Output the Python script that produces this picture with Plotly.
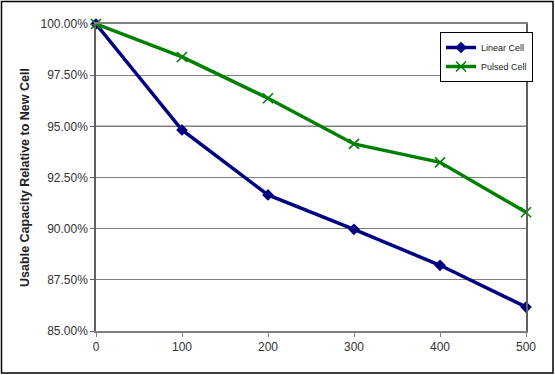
import plotly.graph_objects as go

cycles = [0, 100, 200, 300, 400, 500]
linear_cell = [100.00, 94.82, 91.65, 89.97, 88.21, 86.17]
pulsed_cell = [100.00, 98.39, 96.37, 94.14, 93.24, 90.80]
y_ticks = [85.0, 87.5, 90.0, 92.5, 95.0, 97.5, 100.0]
y_tick_labels = [f"{v:.2f}%" for v in y_ticks]
x_tick_labels = [str(c) for c in cycles]
series_names = ["Linear Cell", "Pulsed Cell"]

W, H = 555, 375
ML, MR, MT, MB = 96, 29, 24, 44
pw, ph = W - ML - MR, H - MT - MB

fig = go.Figure()
fig.add_trace(go.Scatter(
    x=cycles, y=linear_cell, name=series_names[0], mode="lines+markers",
    line=dict(color="#000080", width=3.5),
    marker=dict(symbol="diamond", size=9, color="#000080"),
    cliponaxis=False,
))
fig.add_trace(go.Scatter(
    x=cycles, y=pulsed_cell, name=series_names[1], mode="lines+markers",
    line=dict(color="#008000", width=3.5),
    marker=dict(symbol="x-thin", size=10, color="#008000",
                line=dict(color="#008000", width=1.6)),
    cliponaxis=False,
))

# darker reference gridline at 95%
fig.add_hline(y=y_ticks[4], line=dict(color="#000000", width=1.2), layer="below")

# outer black frame of the chart
fig.add_shape(type="rect", xref="paper", yref="paper",
              x0=(1.5 - ML) / pw, x1=(W - 2 - ML) / pw,
              y0=-(MB - 2) / ph, y1=(H - MB - 1.5) / ph,
              line=dict(color="#000000", width=1.5))

fig.update_layout(
    width=W, height=H,
    margin=dict(l=ML, r=MR, t=MT, b=MB),
    paper_bgcolor="white", plot_bgcolor="white",
    font=dict(family="Liberation Sans, Arial, sans-serif", size=12, color="#333333"),
    showlegend=True,
    legend=dict(x=(440 - ML) / pw, y=(H - MB - 32) / ph, xanchor="left", yanchor="top",
                bgcolor="white", bordercolor="#000000", borderwidth=1,
                font=dict(size=9, color="#222222"),
                itemwidth=30, tracegroupgap=0),
    xaxis=dict(range=[0, 500], tickvals=cycles, ticktext=x_tick_labels, showgrid=False,
               showline=True, linecolor="#808080", linewidth=1.5, mirror=True,
               ticks="outside", ticklen=4, tickcolor="#808080",
               tickfont=dict(size=12, color="#333333"), zeroline=False),
    yaxis=dict(range=[85, 100], tickvals=y_ticks, ticktext=y_tick_labels,
               showgrid=True, gridcolor="#808080", gridwidth=1,
               showline=True, linecolor="#606060", linewidth=1.5, mirror=True,
               ticks="outside", ticklen=4, tickcolor="#606060",
               tickfont=dict(size=12, color="#333333"), zeroline=False,
               title=dict(text="<b>Usable Capacity Relative to New Cell</b>",
                          font=dict(size=12.5, color="#222222"), standoff=8)),
)

fig.write_html("out.html", config={"displayModeBar": False},
               post_script="document.body.style.margin='0';document.body.style.padding='0';")
